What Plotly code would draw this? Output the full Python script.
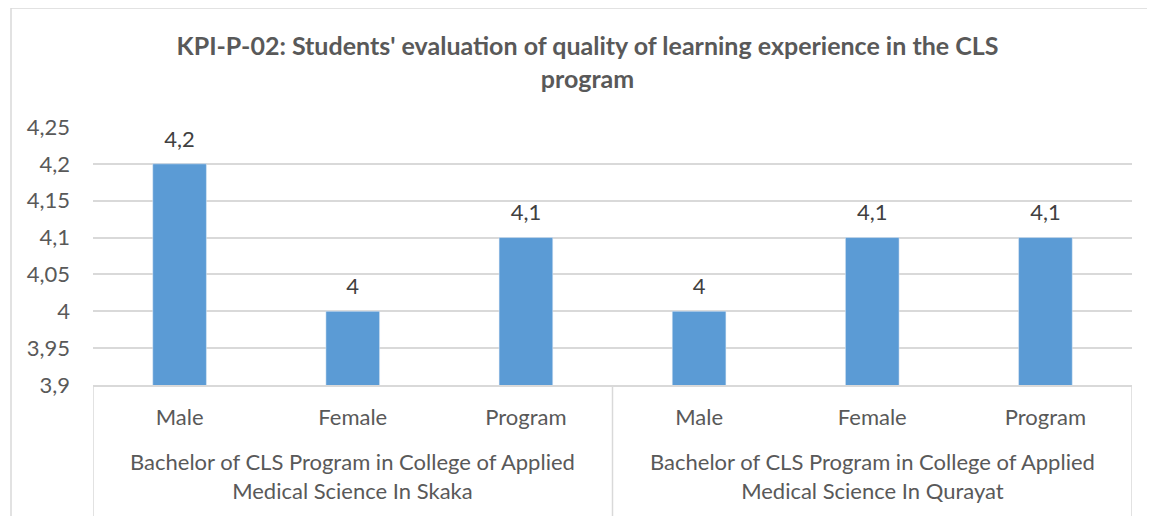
import plotly.graph_objects as go

groups = ["Bachelor of CLS Program in College of Applied<br>Medical Science In Skaka",
          "Bachelor of CLS Program in College of Applied<br>Medical Science In Qurayat"]
subcats = ["Male", "Female", "Program", "Male", "Female", "Program"]
values = [4.2, 4.0, 4.1, 4.0, 4.1, 4.1]
labels = [f"{v:g}".replace(".", ",") for v in values]
pos = list(range(len(values)))
per_group = len(subcats) // len(groups)

# page body has an 8px margin, so the figure is drawn 8px in from the corner
W, H = 1147, 508
ml, mr, mt, mb = 85, 23, 119, 131
pw, ph = W - ml - mr, H - mt - mb
FONT = "Lato"
GRID = "#D9D9D9"

fig = go.Figure()
fig.add_trace(go.Bar(x=pos, y=values, marker_color="#5B9BD5", width=0.31, hoverinfo="y"))
# value labels sit a bit above the bars
fig.add_trace(go.Scatter(
    x=pos, y=values, text=labels, mode="markers+text",
    textposition="top center", marker=dict(size=17, opacity=0),
    textfont=dict(size=22, color="#404040", family=FONT), cliponaxis=False,
    hoverinfo="skip",
))

annotations = []
for g, name in enumerate(groups):
    center = (g * per_group + (g + 1) * per_group - 1) / 2
    annotations.append(dict(x=center, xref="x", y=0, yref="paper", yanchor="middle",
                            yshift=-91, text=name, showarrow=False,
                            font=dict(size=22, color="#595959", family=FONT)))

dividers = [g * per_group - 0.5 for g in range(len(groups) + 1)]

fig.update_layout(
    width=W, height=H, margin=dict(l=ml, r=mr, t=mt, b=mb),
    paper_bgcolor="white", plot_bgcolor="white",
    separators=", ",
    font=dict(family=FONT, size=22, color="#595959"),
    title=dict(text="<b>KPI-P-02: Students' evaluation of quality of learning experience in the CLS<br>program</b>",
               xref="container", x=(587.5 - 8) / W, xanchor="center",
               y=1 - (55 - 8) / H, yanchor="middle",
               font=dict(size=25, color="#595959", family=FONT)),
    showlegend=False,
    annotations=annotations,
    shapes=[
        dict(type="rect", xref="paper", yref="paper",
             x0=-(ml - 3) / pw, x1=1 + (mr + 30) / pw, y0=-(mb + 30) / ph, y1=1 + mt / ph,
             line=dict(color=GRID, width=1.5), fillcolor="rgba(0,0,0,0)", layer="below"),
    ] + [
        dict(type="line", xref="x", yref="paper", x0=d, x1=d, y0=0, y1=-(mb + 5) / ph,
             line=dict(color=GRID, width=1.5))
        for d in dividers
    ],
)
fig.update_yaxes(range=[3.9, 4.25], dtick=0.05, tick0=3.9, showgrid=True, gridcolor=GRID,
                 gridwidth=1.5, zeroline=False, showline=False, ticks="", ticklabelstandoff=22)
fig.update_xaxes(range=[-0.5, len(values) - 0.5], tickvals=pos, ticktext=subcats,
                 showgrid=False, zeroline=False, showline=True, linecolor=GRID, linewidth=1.5,
                 ticks="", ticklabelstandoff=12)

fig.write_html("out.html")
